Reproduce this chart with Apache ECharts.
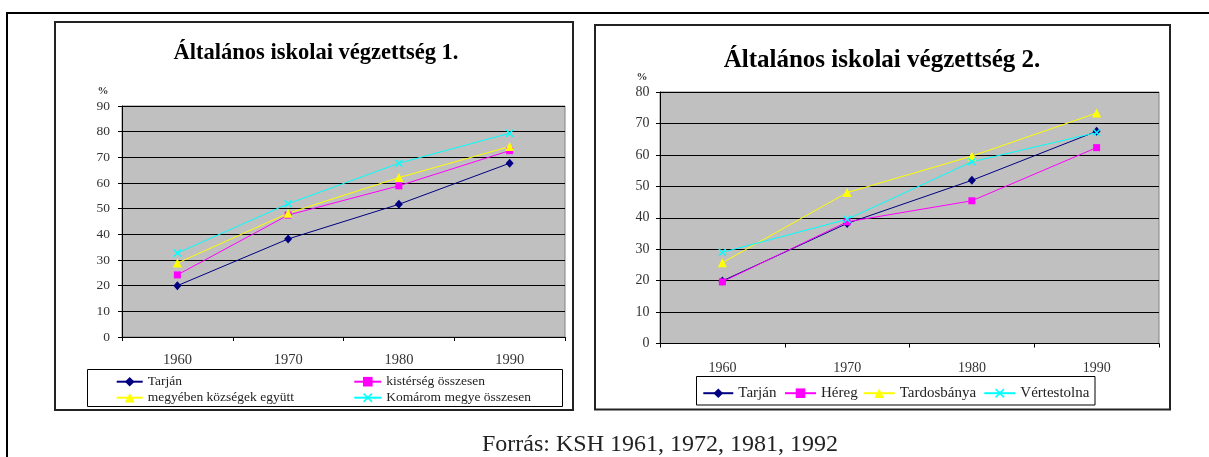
<!DOCTYPE html>
<html>
<head>
<meta charset="utf-8">
<script src="https://cdn.jsdelivr.net/npm/echarts@6/dist/echarts.min.js"></script>
<style>
html,body{margin:0;padding:0;background:#fff;}
#c{width:1209px;height:457px;}
</style>
</head>
<body>
<div id="c"></div>
<script>
// ---- data ----
const years = ['1960', '1970', '1980', '1990'];
const c1Tarjan = [20, 38.2, 51.7, 67.7];
const c1Kisterseg = [24.2, 47.5, 58.9, 72.6];
const c1Megyeben = [28.8, 48.2, 62.1, 74.2];
const c1Komarom = [32.7, 51.9, 67.7, 79.4];
const c2Tarjan = [19.9, 38.2, 51.9, 67.5];
const c2Hereg = [19.6, 38.7, 45.4, 62.3];
const c2Tardosbanya = [25.7, 48.0, 59.6, 73.3];
const c2Vertestolna = [29.0, 39.5, 57.8, 67.1];
const c1Ticks = {min: 0, max: 90, interval: 10};
const c2Ticks = {min: 0, max: 80, interval: 10};
const title1 = 'Általános iskolai végzettség 1.';
const title2 = 'Általános iskolai végzettség 2.';
const sourceText = 'Forrás: KSH 1961, 1972, 1981, 1992';

const FONT = '"Liberation Serif", "Times New Roman", serif';
const X_PATH = 'path://M0,1.2L1.2,0L5,3.8L8.8,0L10,1.2L6.2,5L10,8.8L8.8,10L5,6.2L1.2,10L0,8.8L3.8,5Z';

const styles = {
  tarjan: {color: '#000080', symbol: 'diamond', size: [8, 9]},
  pink: {color: '#ff00ff', symbol: 'rect', size: 7},
  yellow: {color: '#ffff00', symbol: 'triangle', size: 9},
  cyan: {color: '#00ffff', symbol: X_PATH, size: 8}
};

function mkSeries(name, data, st, idx) {
  return {
    type: 'line', name: name, data: data,
    xAxisIndex: idx, yAxisIndex: idx,
    symbol: st.symbol, symbolSize: st.size,
    showAllSymbol: true,
    lineStyle: {color: st.color, width: 1},
    itemStyle: {color: st.color},
    emphasis: {disabled: true},
    animation: false, z: 3
  };
}

function mkX(idx, fs, margin) {
  return {
    type: 'category', gridIndex: idx, data: years, boundaryGap: true,
    axisLine: {show: true, lineStyle: {color: '#000', width: 1}},
    axisTick: {show: true, length: 4, alignWithLabel: false, lineStyle: {color: '#000'}},
    axisLabel: {fontFamily: FONT, fontSize: fs, color: '#333', margin: margin},
    splitLine: {show: false}
  };
}
function mkY(idx, ticks, fs, margin) {
  return {
    type: 'value', gridIndex: idx, min: ticks.min, max: ticks.max, interval: ticks.interval,
    axisLine: {show: true, lineStyle: {color: '#000', width: 1}},
    axisTick: {show: true, length: 4, lineStyle: {color: '#000'}},
    axisLabel: {fontFamily: FONT, fontSize: fs, color: '#333', margin: margin},
    splitLine: {show: true, lineStyle: {color: '#000', width: 1}}
  };
}

function mkLegend(name, left, cy, w, fs) {
  return {
    data: [name], left: left, top: cy - 6, itemWidth: w, itemHeight: 12,
    padding: 0, selectedMode: false,
    textStyle: {fontFamily: FONT, fontSize: fs, color: '#222'}
  };
}

const chart = echarts.init(document.getElementById('c'), null, {renderer: 'canvas'});
chart.setOption({
  animation: false,
  backgroundColor: '#fff',
  grid: [
    {left: 122, top: 106, right: 644, bottom: 120, show: true, backgroundColor: '#c0c0c0', borderColor: '#808080', borderWidth: 1},
    {left: 660, top: 92, right: 50, bottom: 113.5, show: true, backgroundColor: '#c0c0c0', borderColor: '#808080', borderWidth: 1}
  ],
  xAxis: [mkX(0, 14.5, 16), mkX(1, 14, 18)],
  yAxis: [mkY(0, c1Ticks, 13.5, 12), mkY(1, c2Ticks, 14, 10.5)],
  legend: [
    mkLegend('Tarján', 115.7, 380.7, 26, 13.5),
    mkLegend('kistérség összesen', 353.3, 380.7, 27, 13.5),
    mkLegend('megyében községek együtt', 115.7, 396.7, 26, 13.5),
    mkLegend('Komárom megye összesen', 353.3, 396.7, 27, 13.5),
    mkLegend('Tarján', 702.3, 391.7, 30, 15),
    mkLegend('Héreg', 784, 391.7, 31, 15),
    mkLegend('Tardosbánya', 862.7, 391.7, 31, 15),
    mkLegend('Vértestolna', 983.3, 391.7, 31, 15)
  ],
  series: [
    mkSeries('Tarján', c1Tarjan, styles.tarjan, 0),
    mkSeries('kistérség összesen', c1Kisterseg, styles.pink, 0),
    mkSeries('megyében községek együtt', c1Megyeben, styles.yellow, 0),
    mkSeries('Komárom megye összesen', c1Komarom, styles.cyan, 0),
    mkSeries('Tarján', c2Tarjan, styles.tarjan, 1),
    mkSeries('Héreg', c2Hereg, styles.pink, 1),
    mkSeries('Tardosbánya', c2Tardosbanya, styles.yellow, 1),
    mkSeries('Vértestolna', c2Vertestolna, styles.cyan, 1)
  ],
  graphic: [
    // outer frame
    {type: 'line', shape: {x1: 6, y1: 13, x2: 1209, y2: 13}, style: {stroke: '#000', lineWidth: 2}, silent: true},
    {type: 'line', shape: {x1: 7, y1: 12, x2: 7, y2: 457}, style: {stroke: '#000', lineWidth: 2}, silent: true},
    // chart boxes
    {type: 'rect', shape: {x: 55, y: 22, width: 518, height: 388}, style: {fill: 'none', stroke: '#222', lineWidth: 2}, silent: true, z: -1},
    {type: 'rect', shape: {x: 595, y: 25, width: 575, height: 384.5}, style: {fill: 'none', stroke: '#222', lineWidth: 2}, silent: true, z: -1},
    // legend boxes
    {type: 'rect', shape: {x: 87.5, y: 369.5, width: 475, height: 37}, style: {fill: 'none', stroke: '#000', lineWidth: 1}, silent: true},
    {type: 'rect', shape: {x: 696.5, y: 376.5, width: 398.5, height: 28.5}, style: {fill: 'none', stroke: '#000', lineWidth: 1}, silent: true},
    // titles
    {type: 'text', x: 316, y: 53, style: {text: title1, font: 'bold 22.5px ' + FONT, fill: '#000', textAlign: 'center', textVerticalAlign: 'middle'}, silent: true},
    {type: 'text', x: 882, y: 61, style: {text: title2, font: 'bold 25px ' + FONT, fill: '#000', textAlign: 'center', textVerticalAlign: 'middle'}, silent: true},
    // percent signs
    {type: 'text', x: 103, y: 91, style: {text: '%', font: 'bold 11px ' + FONT, fill: '#333', textAlign: 'center', textVerticalAlign: 'middle'}, silent: true},
    {type: 'text', x: 642, y: 77, style: {text: '%', font: 'bold 11px ' + FONT, fill: '#333', textAlign: 'center', textVerticalAlign: 'middle'}, silent: true},
    // source
    {type: 'text', x: 660, y: 445, style: {text: sourceText, font: '24px ' + FONT, fill: '#222', textAlign: 'center', textVerticalAlign: 'middle'}, silent: true}
  ]
});
</script>
</body>
</html>
